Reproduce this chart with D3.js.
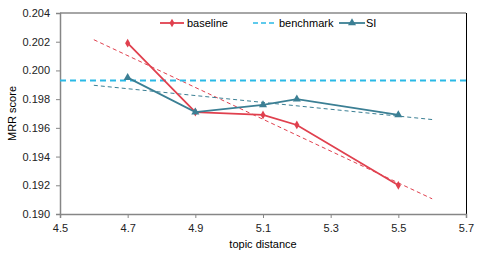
<!DOCTYPE html>
<html>
<head>
<meta charset="utf-8">
<script src="https://cdn.jsdelivr.net/npm/d3@7"></script>
<style>
  body { margin: 0; background: #fff; }
  text { font-family: "Liberation Sans", Arial, sans-serif; }
</style>
</head>
<body>
<div id="chart"></div>
<script>
// data
var distance = [4.7, 4.9, 5.1, 5.2, 5.5]
var baseline = [0.2019, 0.1971, 0.1969, 0.1962, 0.1920]
var si = [0.1995, 0.1971, 0.1976, 0.1980, 0.1969]
var benchmark = 0.1993
var xTicks = [4.5, 4.7, 4.9, 5.1, 5.3, 5.5, 5.7]
var yTicks = [0.190, 0.192, 0.194, 0.196, 0.198, 0.200, 0.202, 0.204]
var trendRange = [4.6, 5.6]

var W = 477, H = 257
var margin = {top: 13, right: 11, bottom: 43, left: 60}
var width = W - margin.left - margin.right,
    height = H - margin.top - margin.bottom

var red = "#e0404e", teal = "#3b7f94", blue = "#2ab9e6"

var svg = d3.select("#chart").append("svg")
    .attr("width", W).attr("height", H)
  .append("g")
    .attr("transform", "translate(" + margin.left + "," + margin.top + ")")

var x = d3.scaleLinear().domain([4.5, 5.7]).range([0, width])
var y = d3.scaleLinear().domain([0.190, 0.204]).range([height, 0])

// plot frame: top grey, right black
svg.append("line").attr("x1", 0).attr("x2", width).attr("y1", 0).attr("y2", 0)
  .attr("stroke", "#888").attr("stroke-width", 1.5)
svg.append("line").attr("x1", width + 0.5).attr("x2", width + 0.5).attr("y1", 0).attr("y2", height)
  .attr("stroke", "#000").attr("stroke-width", 1)

// axes
var xAxis = svg.append("g")
  .attr("transform", "translate(0," + height + ")")
  .call(d3.axisBottom(x).tickValues(xTicks).tickFormat(d3.format(".1f")).tickSize(4).tickPadding(6))
var yAxis = svg.append("g")
  .call(d3.axisLeft(y).tickValues(yTicks).tickFormat(d3.format(".3f")).tickSize(4).tickPadding(6))
;[xAxis, yAxis].forEach(function (a) {
  a.select(".domain").attr("stroke", "#868686").attr("stroke-width", 1.5)
  a.selectAll(".tick line").attr("stroke", "#868686")
  a.selectAll(".tick text").style("font-size", "11px").attr("fill", "#222")
})

// linear trend line (least squares) for a series
function trend(vals) {
  var mx = d3.mean(distance), my = d3.mean(vals)
  var sxy = d3.sum(distance, function (d, i) { return (d - mx) * (vals[i] - my) })
  var sxx = d3.sum(distance, function (d) { return (d - mx) * (d - mx) })
  var b = sxy / sxx
  return trendRange.map(function (t) { return [t, my + b * (t - mx)] })
}

var line = d3.line().x(function (d) { return x(d[0]) }).y(function (d) { return y(d[1]) })

svg.append("path").datum(trend(baseline)).attr("d", line)
  .attr("fill", "none").attr("stroke", red).attr("stroke-width", 1).attr("stroke-dasharray", "4,3")
svg.append("path").datum(trend(si)).attr("d", line)
  .attr("fill", "none").attr("stroke", teal).attr("stroke-width", 1).attr("stroke-dasharray", "4,3")

// benchmark
svg.append("line")
  .attr("x1", x(4.5)).attr("x2", x(5.7))
  .attr("y1", y(benchmark)).attr("y2", y(benchmark))
  .attr("stroke", blue).attr("stroke-width", 2).attr("stroke-dasharray", "6,4")

function series(vals, color, shape, size) {
  var pts = distance.map(function (d, i) { return [d, vals[i]] })
  svg.append("path").datum(pts).attr("d", line)
    .attr("fill", "none").attr("stroke", color).attr("stroke-width", 1.8)
  svg.selectAll(null).data(pts).enter().append("path")
    .attr("d", d3.symbol().type(shape).size(size))
    .attr("transform", function (d) { return "translate(" + x(d[0]) + "," + y(d[1]) + ")" })
    .attr("fill", color)
}
series(baseline, red, d3.symbolDiamond, 22)
series(si, teal, d3.symbolTriangle, 28)

// legend
var lg = svg.append("g").attr("transform", "translate(0," + (23 - margin.top) + ")")
lg.append("line").attr("x1", 100).attr("x2", 124).attr("stroke", red).attr("stroke-width", 1.8)
lg.append("path").attr("d", d3.symbol().type(d3.symbolDiamond).size(22)()).attr("transform", "translate(112,0)").attr("fill", red)
lg.append("text").attr("x", 127).attr("y", 4).style("font-size", "11px").text("baseline")
lg.append("line").attr("x1", 193).attr("x2", 217).attr("stroke", blue).attr("stroke-width", 1.5).attr("stroke-dasharray", "5,3")
lg.append("text").attr("x", 219).attr("y", 4).style("font-size", "11px").text("benchmark")
lg.append("line").attr("x1", 279).attr("x2", 305).attr("stroke", teal).attr("stroke-width", 1.8)
lg.append("path").attr("d", d3.symbol().type(d3.symbolTriangle).size(28)()).attr("transform", "translate(292,0)").attr("fill", teal)
lg.append("text").attr("x", 306).attr("y", 4).style("font-size", "11px").text("SI")

// axis labels
svg.append("text")
  .attr("x", width / 2).attr("y", height + 34)
  .attr("text-anchor", "middle").style("font-size", "11px")
  .text("topic distance")
svg.append("text")
  .attr("transform", "translate(" + (16 - margin.left) + "," + (height / 2) + ")rotate(-90)")
  .attr("text-anchor", "middle").style("font-size", "11px")
  .text("MRR score")
</script>
</body>
</html>
